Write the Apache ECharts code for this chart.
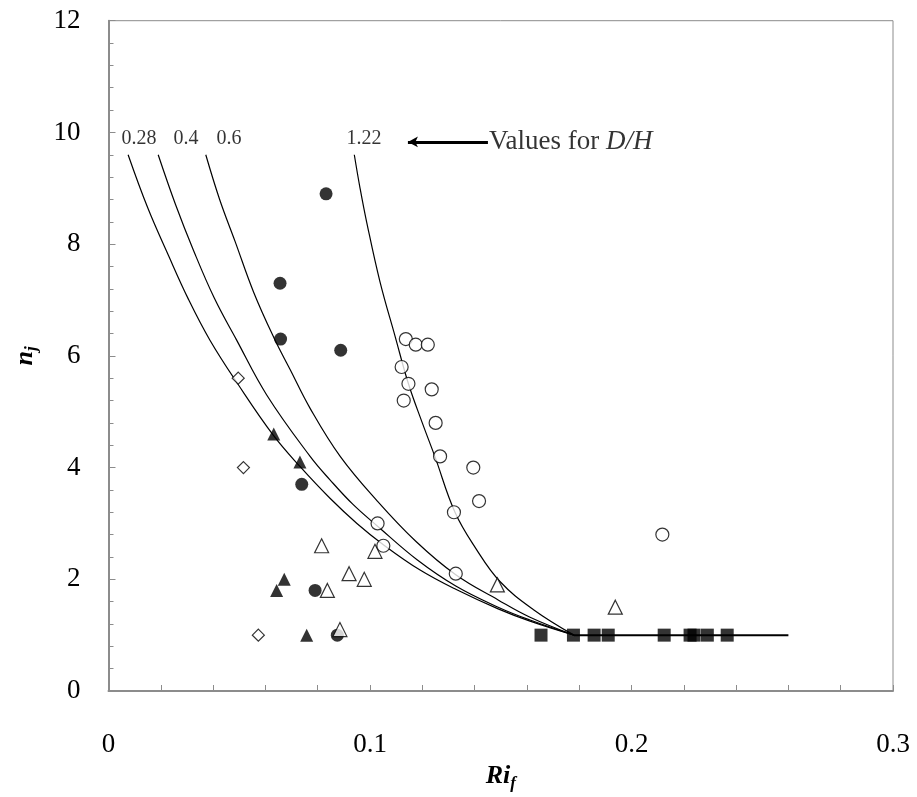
<!DOCTYPE html>
<html>
<head>
<meta charset="utf-8">
<script src="https://cdn.jsdelivr.net/npm/echarts@6/dist/echarts.min.js"></script>
<style>
html, body { margin: 0; padding: 0; background: #fff; }
#main { width: 917px; height: 797px; }
</style>
</head>
<body>
<div id="main"></div>
<script>
// measured points (Ri_f, n_j)
var diamondOpen = [[0.0496, 5.6], [0.0516, 4.0], [0.0573, 1.0]];
var triFilled = [[0.0632, 4.6], [0.0732, 4.1], [0.0672, 2.0], [0.0643, 1.8], [0.0758, 1.0]];
var circFilled = [[0.0832, 8.9], [0.0656, 7.3], [0.0658, 6.3], [0.0888, 6.1], [0.0739, 3.7], [0.079, 1.8], [0.0875, 1.0]];
var triOpen = [[0.0815, 2.6], [0.1019, 2.5], [0.092, 2.1], [0.0978, 2.0], [0.0837, 1.8], [0.0885, 1.1], [0.1487, 1.9], [0.1938, 1.5]];
var circOpen = [[0.1137, 6.3], [0.1175, 6.2], [0.1221, 6.2], [0.1121, 5.8], [0.1147, 5.5], [0.1129, 5.2], [0.1236, 5.4],
  [0.1251, 4.8], [0.1268, 4.2], [0.1395, 4.0], [0.1417, 3.4], [0.1321, 3.2], [0.1029, 3.0], [0.1051, 2.6],
  [0.1328, 2.1], [0.2118, 2.8]];
var squareFilled = [[0.1654, 1], [0.1778, 1], [0.1857, 1], [0.1911, 1], [0.2125, 1], [0.2224, 1], [0.2239, 1], [0.229, 1], [0.2366, 1]];

// model curves for each D/H
var curve028 = [[0.0075, 9.6], [0.015, 8.65], [0.0229, 7.8], [0.0305, 7.02], [0.0388, 6.28], [0.0494, 5.5],
  [0.063, 4.58], [0.0732, 4.02], [0.0847, 3.45], [0.095, 3.0], [0.1051, 2.62], [0.119, 2.17], [0.1328, 1.82],
  [0.149, 1.47], [0.1612, 1.25], [0.178, 1.0]];
var curve04 = [[0.019, 9.6], [0.0257, 8.7], [0.0324, 7.9], [0.0405, 7.03], [0.0488, 6.3], [0.0605, 5.3],
  [0.0771, 4.2], [0.0847, 3.78], [0.0935, 3.34], [0.1029, 2.95], [0.118, 2.35], [0.1328, 1.88], [0.149, 1.5],
  [0.1612, 1.27], [0.178, 1.0]];
var curve06 = [[0.0372, 9.6], [0.0425, 8.8], [0.0484, 8.05], [0.0555, 7.14], [0.0633, 6.32], [0.0694, 5.76],
  [0.0771, 5.06], [0.0886, 4.2], [0.1028, 3.4], [0.1175, 2.68], [0.1328, 2.08], [0.149, 1.63], [0.1612, 1.32],
  [0.178, 1.0]];
var curve122 = [[0.094, 9.6], [0.0962, 9.0], [0.0987, 8.4], [0.1038, 7.33], [0.1096, 6.35], [0.1147, 5.5],
  [0.12, 4.8], [0.1248, 4.2], [0.1325, 3.2], [0.1405, 2.55], [0.1497, 1.96], [0.1624, 1.46], [0.178, 1.0]];
var flatLine = [[0.178, 1], [0.26, 1]];

var curveLabels = [[0.0117, 9.88, '0.28'], [0.0296, 9.88, '0.4'], [0.0461, 9.88, '0.6'], [0.0977, 9.88, '1.22']];
var arrowFrom = [0.1451, 9.83];
var arrowTo = [0.1145, 9.83];

var serif = '"Liberation Serif", "DejaVu Serif", serif';

function marker(name, symbol, size, data, filled) {
	return {
		name: name,
		type: 'scatter',
		symbol: symbol,
		symbolSize: size,
		data: data,
		z: 5,
		itemStyle: filled ? { color: '#000' } : { color: '#fff', borderColor: '#000', borderWidth: 1.2 }
	};
}

function curve(name, data) {
	return {
		name: name,
		type: 'line',
		data: data,
		smooth: 0.4,
		showSymbol: false,
		lineStyle: { color: '#000', width: 1.2 },
		z: 3
	};
}

var chart = echarts.init(document.getElementById('main'));
chart.setOption({
	animation: false,
	backgroundColor: '#fff',
	grid: {
		left: 108.5, right: 24, top: 20.7, bottom: 101.3,
		show: true, borderColor: '#8c8c8c', borderWidth: 1
	},
	xAxis: {
		type: 'value', min: 0, max: 0.3, interval: 0.1,
		name: '{b|Ri}{s|f}', nameLocation: 'middle', nameGap: 70,
		nameTextStyle: {
			rich: {
				b: { fontFamily: serif, fontSize: 26, fontWeight: 'bold', fontStyle: 'italic', color: '#000' },
				s: { fontFamily: serif, fontSize: 17, fontWeight: 'bold', fontStyle: 'italic', color: '#000', verticalAlign: 'bottom', padding: [14, 0, 0, 0] }
			}
		},
		axisLine: { lineStyle: { color: '#8c8c8c', width: 2 } },
		axisTick: { inside: true, length: 6, lineStyle: { color: '#8c8c8c' } },
		minorTick: { show: true, splitNumber: 5, length: 6, lineStyle: { color: '#8c8c8c' } },
		splitLine: { show: false },
		axisLabel: { fontFamily: serif, fontSize: 27, color: '#000', margin: 40 }
	},
	yAxis: {
		type: 'value', min: 0, max: 12, interval: 2,
		name: '{b|n}{s|j}', nameLocation: 'middle', nameGap: 68, nameRotate: 90,
		nameTextStyle: {
			rich: {
				b: { fontFamily: serif, fontSize: 26, fontWeight: 'bold', fontStyle: 'italic', color: '#000' },
				s: { fontFamily: serif, fontSize: 17, fontWeight: 'bold', fontStyle: 'italic', color: '#000', padding: [14, 0, 0, 0] }
			}
		},
		axisLine: { lineStyle: { color: '#8c8c8c', width: 2 } },
		axisTick: { inside: true, length: 7, lineStyle: { color: '#8c8c8c' } },
		minorTick: { show: true, splitNumber: 5, length: 5, lineStyle: { color: '#8c8c8c' } },
		splitLine: { show: false },
		axisLabel: { fontFamily: serif, fontSize: 27, color: '#000', margin: 28 }
	},
	series: [
		curve('D/H 0.28', curve028),
		curve('D/H 0.4', curve04),
		curve('D/H 0.6', curve06),
		curve('D/H 1.22', curve122),
		{
			name: 'n=1', type: 'line', data: flatLine, showSymbol: false,
			lineStyle: { color: '#000', width: 2 }, z: 3,
			markLine: {
				silent: true, symbol: ['none', 'arrow'], symbolSize: [8, 10],
				lineStyle: { color: '#000', width: 3, type: 'solid' },
				label: { show: false },
				data: [[{ coord: arrowFrom }, { coord: arrowTo }]]
			}
		},
		marker('open diamond', 'diamond', 12, diamondOpen, false),
		marker('filled triangle', 'triangle', 13, triFilled, true),
		marker('filled circle', 'circle', 13, circFilled, true),
		marker('open triangle', 'triangle', 14, triOpen, false),
		marker('open circle', 'circle', 13, circOpen, false),
		marker('filled square', 'rect', 13, squareFilled, true),
		{
			name: 'labels', type: 'scatter', symbolSize: 0, silent: true,
			data: curveLabels,
			label: {
				show: true, position: 'inside', formatter: function (p) { return p.data[2]; },
				fontFamily: serif, fontSize: 20, color: '#000'
			}
		},
		{
			name: 'note', type: 'scatter', symbolSize: 0, silent: true,
			data: [arrowFrom],
			label: {
				show: true, position: 'right', distance: 1,
				formatter: 'Values for {i|D/H}',
				fontFamily: serif, fontSize: 27, color: '#000',
				rich: { i: { fontFamily: serif, fontSize: 27, fontStyle: 'italic', color: '#000' } }
			}
		}
	]
});
</script>
</body>
</html>
